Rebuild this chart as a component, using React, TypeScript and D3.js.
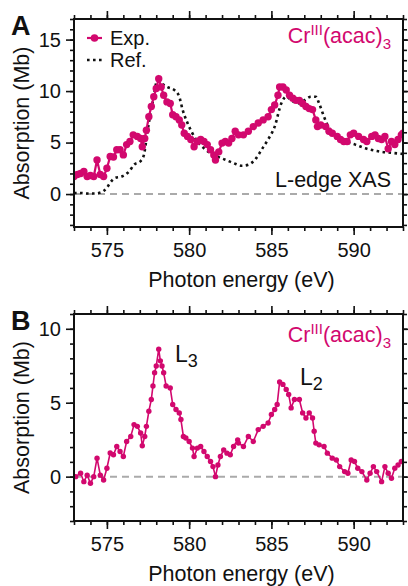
import React, { useEffect, useRef } from 'react';
import * as d3 from 'd3';

// Panel A, experiment (Mb vs eV)
const expEnergyA = [573.0, 573.2, 573.4, 573.6, 573.8, 574.0, 574.2, 574.4, 574.6, 574.8, 575.0, 575.2, 575.4, 575.6, 575.8, 576.0, 576.2, 576.4, 576.6, 576.85, 577.05, 577.15, 577.3, 577.4, 577.55, 577.7, 577.85, 578.0, 578.15, 578.3, 578.45, 578.65, 578.85, 579.0, 579.2, 579.4, 579.55, 579.7, 579.9, 580.1, 580.3, 580.5, 580.7, 580.9, 581.1, 581.3, 581.5, 581.6, 581.8, 582.0, 582.2, 582.4, 582.6, 582.8, 583.0, 583.3, 583.6, 583.9, 584.2, 584.5, 584.8, 585.0, 585.2, 585.4, 585.5, 585.7, 585.9, 586.1, 586.3, 586.5, 586.7, 586.9, 587.1, 587.3, 587.5, 587.7, 587.8, 588.0, 588.3, 588.5, 588.7, 589.0, 589.2, 589.4, 589.6, 589.8, 590.0, 590.3, 590.6, 590.8, 591.1, 591.3, 591.5, 591.7, 591.9, 592.1, 592.3, 592.5, 592.7, 592.9, 593.0];
const expAbsA = [1.7, 1.9, 2.0, 2.2, 1.7, 1.8, 1.7, 3.3, 1.9, 1.7, 2.5, 3.65, 3.6, 4.3, 4.3, 3.8, 4.8, 5.1, 5.75, 5.6, 5.4, 4.6, 5.4, 6.2, 7.5, 8.5, 9.45, 10.25, 11.2, 10.4, 9.6, 8.95, 8.8, 7.7, 7.5, 7.2, 6.7, 5.9, 5.6, 5.3, 4.6, 5.1, 5.3, 5.1, 4.8, 4.3, 3.8, 3.3, 4.1, 4.95, 5.1, 4.95, 5.4, 6.1, 5.75, 5.75, 6.1, 6.55, 6.9, 7.2, 7.5, 8.2, 8.65, 9.6, 10.4, 10.4, 10.1, 9.6, 9.3, 9.1, 9.1, 8.8, 8.5, 8.3, 8.2, 7.2, 6.55, 6.7, 6.55, 6.1, 5.9, 5.6, 5.3, 5.1, 5.1, 5.75, 5.9, 5.6, 5.3, 5.1, 5.6, 5.75, 5.4, 5.3, 5.6, 4.4, 5.1, 4.8, 5.3, 5.75, 5.9];

// Panel A, reference spectrum
const refEnergyA = [573.0, 573.4, 573.8, 574.2, 574.5, 574.8, 575.0, 575.2, 575.5, 575.9, 576.35, 576.65, 577.05, 577.25, 577.45, 577.65, 577.85, 578.05, 578.35, 578.65, 579.1, 579.4, 579.6, 579.9, 580.2, 580.5, 580.9, 581.3, 581.7, 582.2, 582.7, 583.2, 583.6, 584.0, 584.4, 584.8, 585.2, 585.6, 585.9, 586.3, 586.7, 587.0, 587.4, 587.7, 587.9, 588.2, 588.5, 589.0, 589.5, 590.1, 590.7, 591.5, 592.3, 593.0];
const refAbsA = [0.1, 0.1, 0.05, 0.05, 0.1, 0.3, 0.6, 1.1, 1.56, 1.7, 2.2, 2.85, 3.2, 3.8, 5.9, 7.85, 9.45, 11.0, 10.7, 10.4, 10.1, 9.45, 8.2, 6.9, 5.9, 5.1, 4.45, 3.97, 3.65, 3.33, 3.0, 2.75, 2.85, 3.33, 4.3, 5.3, 6.55, 8.8, 9.45, 9.0, 8.8, 9.1, 9.45, 9.45, 8.8, 7.5, 6.4, 5.6, 5.1, 4.8, 4.45, 4.15, 4.0, 3.9];

// Panel B, background-subtracted experiment
const expEnergyB = [573.1, 573.4, 573.6, 573.8, 574.0, 574.2, 574.4, 574.6, 574.8, 575.0, 575.2, 575.4, 575.6, 575.8, 576.0, 576.2, 576.45, 576.65, 576.85, 577.05, 577.15, 577.3, 577.4, 577.55, 577.7, 577.8, 577.9, 578.0, 578.15, 578.25, 578.35, 578.45, 578.6, 578.85, 579.0, 579.2, 579.4, 579.5, 579.65, 579.8, 580.0, 580.2, 580.3, 580.5, 580.7, 580.9, 581.1, 581.3, 581.45, 581.6, 581.75, 581.9, 582.1, 582.3, 582.5, 582.7, 582.95, 583.0, 583.3, 583.6, 583.9, 584.2, 584.5, 584.8, 585.0, 585.2, 585.35, 585.5, 585.7, 585.9, 586.05, 586.2, 586.4, 586.7, 586.9, 587.1, 587.3, 587.5, 587.6, 587.7, 587.9, 588.2, 588.4, 588.7, 588.95, 589.15, 589.45, 589.65, 589.85, 590.05, 590.25, 590.5, 590.8, 591.0, 591.2, 591.4, 591.7, 591.9, 592.1, 592.3, 592.5, 592.7, 592.9];
const expAbsB = [0.0, 0.23, -0.34, 0.1, -0.45, 0.0, 1.25, 0.1, -0.23, 0.57, 1.6, 1.48, 2.04, 1.7, 1.36, 2.38, 2.72, 3.52, 3.4, 2.95, 2.09, 2.72, 3.4, 4.42, 5.22, 6.13, 7.03, 7.48, 8.62, 7.83, 7.48, 7.03, 6.13, 6.0, 4.88, 4.54, 4.31, 3.86, 2.72, 2.61, 2.38, 1.93, 1.36, 1.93, 2.04, 1.7, 1.36, 1.02, 0.68, 0.0, 0.79, 1.36, 1.81, 1.59, 1.48, 2.04, 2.49, 2.27, 2.04, 2.72, 2.38, 3.18, 3.4, 3.63, 4.2, 4.54, 4.88, 6.4, 6.24, 5.9, 5.56, 4.65, 5.22, 5.22, 4.31, 3.97, 4.31, 3.97, 3.07, 2.27, 2.15, 2.04, 1.59, 1.25, 1.13, 0.68, 0.34, 0.23, 1.13, 1.02, 0.57, 0.34, -0.23, 0.23, 0.68, 0.34, -0.34, 0.68, 0.23, -0.11, 0.57, 0.79, 1.02];

const xMajorTicks = [575, 580, 585, 590];
const yMajorTicksA = [0, 5, 10, 15];
const yMajorTicksB = [0, 5, 10];

const MAGENTA = '#d2086e';
const FONT = '"Liberation Sans", Arial, Helvetica, sans-serif';

function drawPanel(root: any, o: any) {
    var left = 74, right = 403;
    var x = d3.scaleLinear().domain([573, 593]).range([left, right]);
    var y = d3.scaleLinear().domain(o.yDomain).range([o.bottom, o.top]);
    var xMinor = d3.range(573, 594, 1);
    var yMinor = d3.range(Math.ceil(o.yDomain[0]), Math.floor(o.yDomain[1]) + 1, 1);

    var g = root.append('g');

    // clip for data
    g.append('clipPath').attr('id', 'clip' + o.id)
        .append('rect').attr('x', left).attr('y', o.top)
        .attr('width', right - left).attr('height', o.bottom - o.top);

    // zero line
    g.append('line')
        .attr('x1', left).attr('x2', right)
        .attr('y1', y(0)).attr('y2', y(0))
        .attr('stroke', '#aaaaaa').attr('stroke-width', 2)
        .attr('stroke-dasharray', '7,5');

    var data = g.append('g').attr('clip-path', 'url(#clip' + o.id + ')');

    if (o.refE) {
        var refPts = o.refE.map((e: number, i: number) => [e, o.refV[i]]);
        data.append('path')
            .attr('d', d3.line().x((d: any) => x(d[0])).y((d: any) => y(d[1])).curve(d3.curveMonotoneX)(refPts))
            .attr('fill', 'none').attr('stroke', '#111')
            .attr('stroke-width', 2.6).attr('stroke-dasharray', '2.6,3.4');
    }

    var pts = o.expE.map((e: number, i: number) => [e, o.expV[i]]);
    data.append('path')
        .attr('d', d3.line().x((d: any) => x(d[0])).y((d: any) => y(d[1]))(pts))
        .attr('fill', 'none').attr('stroke', MAGENTA).attr('stroke-width', o.lw);
    data.selectAll('circle.pt').data(pts).enter().append('circle')
        .attr('class', 'pt')
        .attr('cx', (d: any) => x(d[0])).attr('cy', (d: any) => y(d[1]))
        .attr('r', o.r).attr('fill', MAGENTA);

    // axes: major + minor ticks on all four sides
    var style = (sel: any) => {
        sel.select('.domain').remove();
        sel.selectAll('line').attr('stroke', '#111').attr('stroke-width', 1.6);
        sel.selectAll('text').attr('font-family', FONT).attr('font-size', 20).attr('fill', '#111');
    };
    g.append('g').attr('transform', 'translate(0,' + o.bottom + ')')
        .call(d3.axisBottom(x).tickValues(xMajorTicks).tickSize(8).tickPadding(8).tickFormat(d3.format('d')))
        .call(style);
    g.append('g').attr('transform', 'translate(0,' + o.bottom + ')')
        .call(d3.axisBottom(x).tickValues(xMinor).tickSize(4).tickFormat(() => '')).call(style);
    g.append('g').attr('transform', 'translate(0,' + o.top + ')')
        .call(d3.axisTop(x).tickValues(xMajorTicks).tickSize(8).tickFormat(() => '')).call(style);
    g.append('g').attr('transform', 'translate(0,' + o.top + ')')
        .call(d3.axisTop(x).tickValues(xMinor).tickSize(4).tickFormat(() => '')).call(style);
    g.append('g').attr('transform', 'translate(' + left + ',0)')
        .call(d3.axisLeft(y).tickValues(o.yTicks).tickSize(8).tickPadding(5).tickFormat(d3.format('d')))
        .call(style);
    g.append('g').attr('transform', 'translate(' + left + ',0)')
        .call(d3.axisLeft(y).tickValues(yMinor).tickSize(4).tickFormat(() => '')).call(style);
    g.append('g').attr('transform', 'translate(' + right + ',0)')
        .call(d3.axisRight(y).tickValues(o.yTicks).tickSize(8).tickFormat(() => '')).call(style);
    g.append('g').attr('transform', 'translate(' + right + ',0)')
        .call(d3.axisRight(y).tickValues(yMinor).tickSize(4).tickFormat(() => '')).call(style);

    // frame
    g.append('rect')
        .attr('x', left).attr('y', o.top)
        .attr('width', right - left).attr('height', o.bottom - o.top)
        .attr('fill', 'none').attr('stroke', '#111').attr('stroke-width', 2);

    // axis titles
    g.append('text')
        .attr('x', (left + right) / 2 + 3).attr('y', o.bottom + 60)
        .attr('text-anchor', 'middle')
        .attr('font-family', FONT).attr('font-size', 21.5).attr('fill', '#111')
        .text('Photon energy (eV)');
    g.append('text')
        .attr('transform', 'translate(28.5,' + (o.top + o.bottom) / 2 + ') rotate(-90)')
        .attr('text-anchor', 'middle')
        .attr('font-family', FONT).attr('font-size', 21.5).attr('fill', '#111')
        .text('Absorption (Mb)');

    // panel letter
    g.append('text')
        .attr('x', 11).attr('y', o.top + 16)
        .attr('font-family', FONT).attr('font-size', 27).attr('font-weight', 'bold').attr('fill', '#111')
        .text(o.letter);

    // compound label
    var t = g.append('text')
        .attr('x', 391).attr('y', o.top + o.labelDy)
        .attr('text-anchor', 'end')
        .attr('font-family', FONT).attr('font-size', 21.5).attr('fill', MAGENTA);
    t.append('tspan').text('Cr');
    t.append('tspan').attr('dy', -8).attr('font-size', 15).text('III');
    t.append('tspan').attr('dy', 8).text('(acac)');
    t.append('tspan').attr('dy', 6).attr('font-size', 15).text('3');

    return { x: x, y: y, g: g };
}

function App() {
    const chartRef = useRef<SVGSVGElement>(null);

    useEffect(() => {
        var svg = d3.select(chartRef.current);
        svg.selectAll('*').remove();

        // Panel A
        var a = drawPanel(svg, {
            id: 'A', letter: 'A', top: 19, bottom: 227, yDomain: [-3.2, 17], yTicks: yMajorTicksA,
            expE: expEnergyA, expV: expAbsA, refE: refEnergyA, refV: refAbsA, r: 3.7, lw: 2.2, labelDy: 24
        });

        // legend
        var lg = a.g.append('g');
        lg.append('line').attr('x1', 87).attr('x2', 102).attr('y1', 38).attr('y2', 38)
            .attr('stroke', MAGENTA).attr('stroke-width', 2.2);
        lg.append('circle').attr('cx', 94.5).attr('cy', 38).attr('r', 3.8).attr('fill', MAGENTA);
        lg.append('text').attr('x', 110).attr('y', 45)
            .attr('font-family', FONT).attr('font-size', 20).attr('fill', '#111').text('Exp.');
        lg.append('line').attr('x1', 87).attr('x2', 103).attr('y1', 60).attr('y2', 60)
            .attr('stroke', '#111').attr('stroke-width', 2.6).attr('stroke-dasharray', '2.6,3.4');
        lg.append('text').attr('x', 110).attr('y', 66.5)
            .attr('font-family', FONT).attr('font-size', 20).attr('fill', '#111').text('Ref.');

        a.g.append('text').attr('x', 391).attr('y', 187).attr('text-anchor', 'end')
            .attr('font-family', FONT).attr('font-size', 21.5).attr('fill', '#111').text('L-edge XAS');

        // Panel B
        var b = drawPanel(svg, {
            id: 'B', letter: 'B', top: 314, bottom: 521, yDomain: [-3, 11], yTicks: yMajorTicksB,
            expE: expEnergyB, expV: expAbsB, r: 2.7, lw: 1.6, labelDy: 28
        });

        var peak = (label: string, sub: string, px: number, py: number) => {
            var tt = b.g.append('text').attr('x', px).attr('y', py)
                .attr('font-family', FONT).attr('font-size', 23).attr('fill', '#111');
            tt.append('tspan').text(label);
            tt.append('tspan').attr('dy', 5).attr('font-size', 18).text(sub);
        };
        peak('L', '3', 175, 362);
        peak('L', '2', 300, 385);
    }, []);

    return (
        <svg ref={chartRef} width={408} height={586}
            style={{ position: 'absolute', left: 0, top: 0, background: '#fff' }} />
    );
}

export default App;
